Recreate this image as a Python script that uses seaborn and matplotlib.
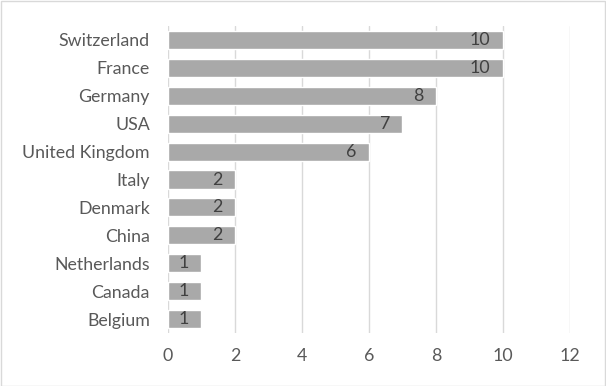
import matplotlib
matplotlib.use("Agg")
import matplotlib.pyplot as plt
import seaborn as sns
import pandas as pd
from matplotlib.patches import Rectangle

countries = ["Switzerland", "France", "Germany", "USA", "United Kingdom",
             "Italy", "Denmark", "China", "Netherlands", "Canada", "Belgium"]
counts = [10, 10, 8, 7, 6, 2, 2, 2, 1, 1, 1]
xticks = [0, 2, 4, 6, 8, 10, 12]

df = pd.DataFrame({"country": countries, "count": counts})

sns.set_theme(style="white")
plt.rcParams['font.family'] = ['Lato', 'DejaVu Sans']

fig = plt.figure(figsize=(6.06, 3.86), dpi=100)
ax = fig.add_axes([0.2772, 0.1373, 0.6634, 0.7953])

sns.barplot(data=df, y="country", x="count", orient="h", color="#a9a9a9",
            saturation=1, width=0.65, ax=ax, order=countries)

ax.set_xlim(0, 12)
ax.set_ylim(10.5, -0.5)
ax.set_xticks(xticks)
ax.set_xticklabels([str(t) for t in xticks])
ax.set_xlabel("")
ax.set_ylabel("")
ax.grid(axis="x", color="#d9d9d9", linewidth=1)
ax.set_axisbelow(True)
for s in ax.spines.values():
    s.set_visible(False)
ax.tick_params(axis="both", length=0, colors="#595959", labelsize=12.8)
ax.tick_params(axis="y", pad=13)
ax.tick_params(axis="x", pad=11)

for i, v in enumerate(counts):
    ax.annotate(str(v), xy=(v, i), xytext=(-9, 0), textcoords="offset points",
                ha="right", va="center", fontsize=12.8, color="#404040")

fig.patches.append(Rectangle((0.5 / 606, 0.5 / 386), 1 - 1.5 / 606, 1 - 1.5 / 386,
                             transform=fig.transFigure, fill=False,
                             edgecolor="#d9d9d9", linewidth=1))

fig.savefig("out.png", dpi=100)
